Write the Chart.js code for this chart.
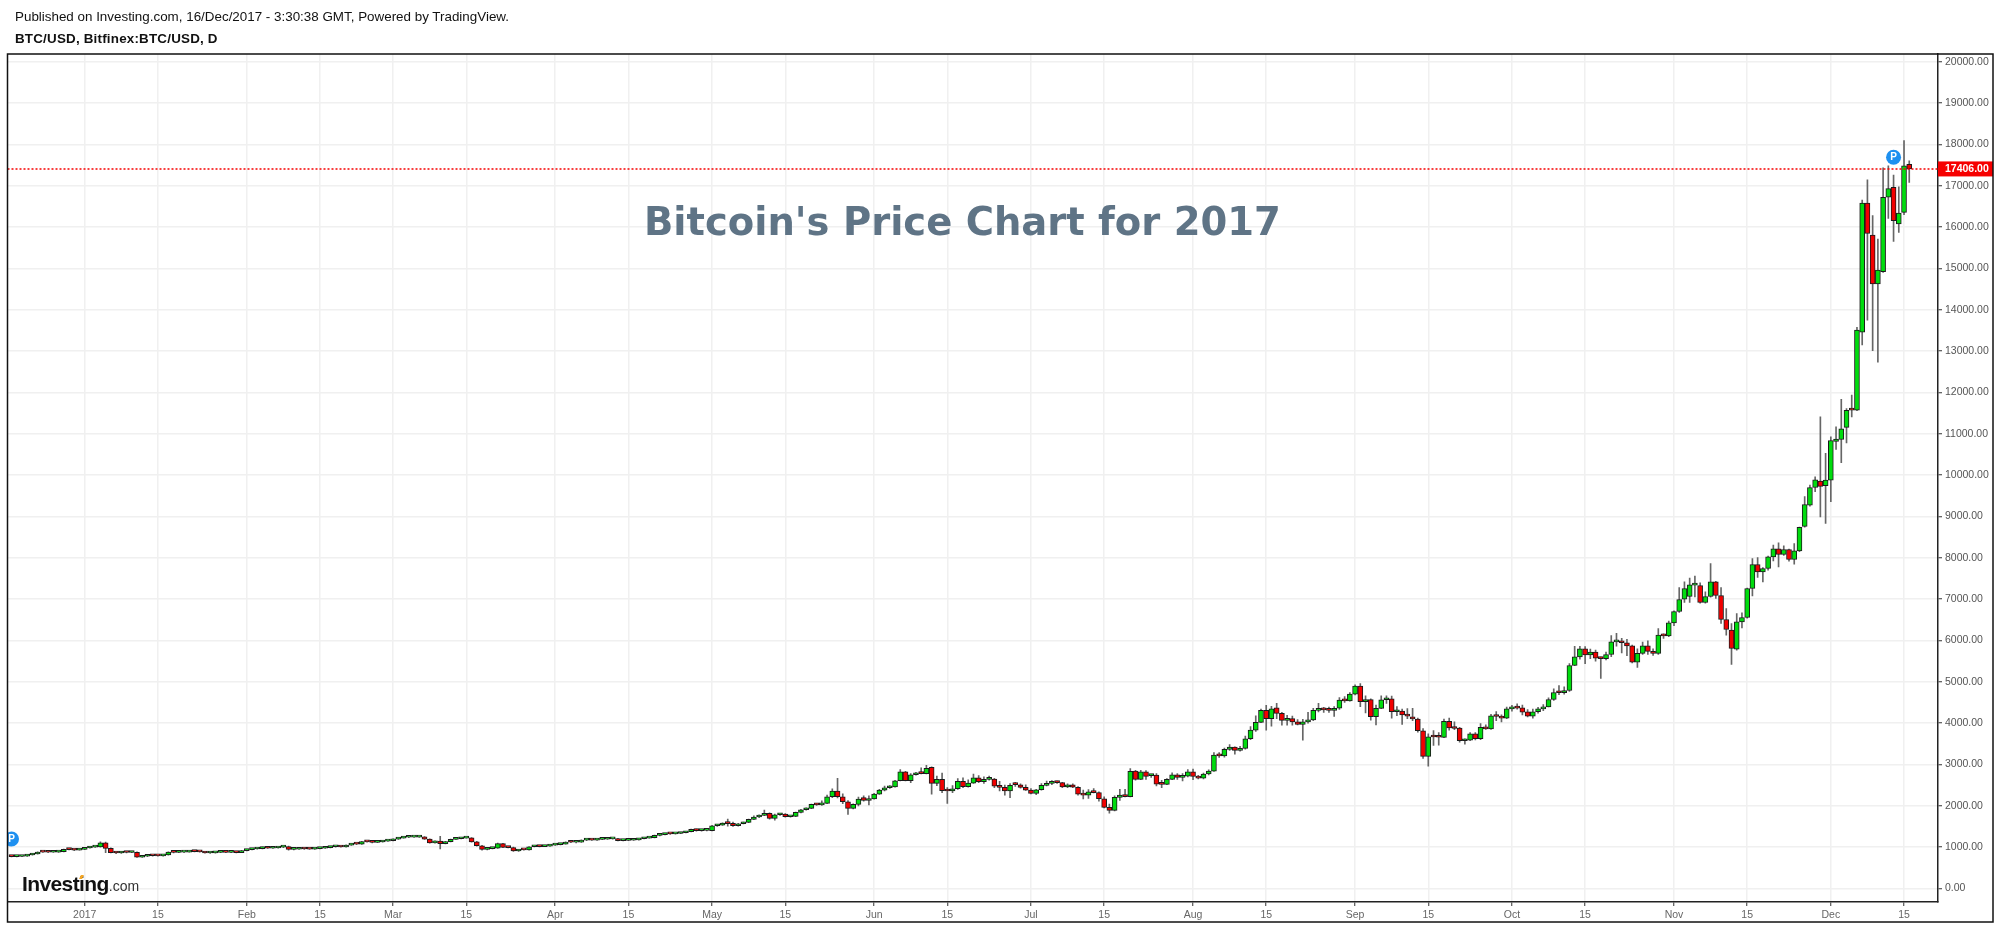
<!DOCTYPE html>
<html>
<head>
<meta charset="utf-8">
<title>BTC/USD</title>
<script src="https://cdn.jsdelivr.net/npm/chart.js@4"></script>
<style>
  body { margin: 0; background: #fff; width: 2000px; height: 925px; overflow: hidden; position: relative; }
  canvas { position: absolute; left: 0; top: 0; }
  .txt { position: absolute; white-space: nowrap; font-family: "Liberation Sans", sans-serif; color: #111; }
  #pub { left: 15px; top: 9px; font-size: 13.4px; }
  #sym { left: 15px; top: 31px; font-size: 13.4px; font-weight: bold; letter-spacing: 0.2px; }
  #bigTitle { left: 644px; top: 195px; font-family: "DejaVu Sans", sans-serif; font-weight: 700; font-size: 38.5px; line-height: 54px; color: #5f7486; }
  #logo { left: 22px; top: 872px; font-size: 21px; line-height: 24px; font-weight: bold; letter-spacing: -0.6px; }
  #logo span { font-weight: normal; font-size: 14px; color: #333; letter-spacing: 0; }
  #logo i { position: absolute; left: 58px; top: 3px; width: 3px; height: 4px; background: #f5a623; transform: skewX(-25deg); }
</style>
</head>
<body>
<canvas id="chart" width="2000" height="925"></canvas>
<div class="txt" id="pub">Published on Investing.com, 16/Dec/2017 - 3:30:38 GMT, Powered by TradingView.</div>
<div class="txt" id="sym">BTC/USD, Bitfinex:BTC/USD, D</div>
<div class="txt" id="bigTitle">Bitcoin's Price Chart for 2017</div>
<div class="txt" id="logo">Investing<span>.com</span><i></i></div>
<script>
// Dias contados desde el 1 de enero de 2017, la primera vela es 18/Dic/2016
const FIRST_DAY = -14;
const LAST_PRICE = 17406;

// Eje X
const X_MIN = -14.77;
const X_MAX = 354.5;
const tickDays = [0, 14, 31, 45, 59, 73, 90, 104, 120, 134, 151, 165, 181, 195, 212, 226, 243, 257, 273, 287, 304, 318, 334, 348];
const tickLabels = ['2017', '15', 'Feb', '15', 'Mar', '15', 'Apr', '15', 'May', '15', 'Jun', '15', 'Jul', '15', 'Aug', '15', 'Sep', '15', 'Oct', '15', 'Nov', '15', 'Dec', '15'];

// Eje Y
const Y_MIN = -326;
const Y_MAX = 20186;
const priceTicks = [0, 1000, 2000, 3000, 4000, 5000, 6000, 7000, 8000, 9000, 10000, 11000, 12000, 13000, 14000, 15000, 16000, 17000, 18000, 19000, 20000];

// Marcas "P"
const badgeDays = [-14, 346];
const badgeValues = [1197, 17690];

// Velas, una fila por mes
const opens = [
  772,770,774,782,810,834,883,880,878,880,893,950,940,930,
  945,980,1003,1008,1108,972,866,860,880,872,875,757,780,795,792,790,810,880,875,880,882,900,892,885,860,862,875,878,874,876,870,
  917,940,955,965,1000,975,980,1000,1015,945,950,960,955,952,965,975,990,1010,1012,1005,1050,1075,1072,1135,1130,1115,1125,1145,
  1155,1195,1220,1240,1242,1245,1248,1195,1105,1150,1085,1135,1190,1205,1220,1228,1130,1035,945,965,975,1085,996,990,907,942,935,1011,1020,1015,1025,
  1050,1060,1075,1125,1120,1122,1170,1175,1170,1190,1192,1200,1205,1160,1165,1168,1175,1205,1220,1228,1285,1305,1325,1322,1330,1350,1375,1430,1400,1405,
  1398,1519,1530,1590,1576,1519,1567,1600,1673,1729,1770,1818,1697,1785,1800,1736,1745,1842,1906,1940,2036,2025,2060,2220,2358,2220,2100,1939,2036,2200,2130,
  2170,2285,2382,2438,2460,2607,2825,2607,2752,2786,2780,2931,2544,2641,2365,2360,2413,2592,2462,2551,2680,2583,2640,2650,2478,2447,2358,2530,2510,2447,
  2382,2302,2390,2495,2544,2575,2560,2455,2510,2450,2285,2260,2360,2320,2172,1963,1891,2205,2261,2222,2840,2641,2825,2730,2745,2535,2520,2641,2752,2689,2715,
  2825,2710,2670,2770,2840,3228,3210,3366,3420,3340,3390,3622,3833,4019,4309,4106,4368,4237,4067,4110,4030,3970,4030,4080,4309,4335,4325,4310,4360,4565,4540,
  4703,4897,4518,4570,4155,4357,4566,4590,4276,4290,4200,4150,4100,3816,3197,3685,3685,3655,4043,3882,3880,3575,3590,3744,3622,3898,3860,4188,4162,4120,
  4347,4385,4371,4275,4170,4275,4347,4395,4573,4742,4735,4790,5395,5605,5798,5653,5717,5572,5560,5660,5968,5975,5945,5870,5475,5686,5870,5735,5686,6129,6112,
  6427,6700,6999,7064,7340,7330,6919,7064,7420,7088,6508,6250,5790,6451,6556,7257,7838,7660,7741,8023,8217,8080,8200,7958,8168,8760,9275,9700,9855,9742,
  9880,10814,10862,11153,11580,11570,13460,16580,15805,14625,14920,16720,16960,16075,16355,17520
];
const highs = [
  780,778,785,815,840,890,888,885,890,900,955,962,945,960,
  985,1010,1020,1130,1125,985,885,890,885,885,890,790,805,805,800,815,890,890,892,888,905,912,900,890,872,880,885,884,882,880,922,
  945,960,972,1005,1005,985,1005,1020,1025,958,966,966,962,970,980,995,1015,1018,1018,1055,1080,1085,1140,1150,1140,1130,1150,1160,
  1200,1225,1245,1250,1250,1255,1255,1200,1155,1260,1140,1195,1210,1225,1235,1235,1140,1045,975,985,1100,1095,1005,1000,935,950,1015,1028,1028,1032,1055,
  1068,1080,1130,1135,1128,1175,1185,1182,1195,1198,1205,1210,1212,1172,1178,1180,1208,1225,1235,1290,1310,1330,1335,1335,1355,1380,1435,1440,1412,1415,
  1530,1550,1590,1680,1610,1575,1610,1680,1760,1785,1898,1830,1800,1810,1815,1755,1850,1915,1950,2045,2060,2120,2260,2410,2665,2290,2130,2050,2210,2245,2240,
  2300,2400,2480,2490,2620,2880,2835,2780,2810,2920,2980,2945,2720,2790,2440,2490,2660,2680,2630,2770,2730,2700,2720,2665,2590,2500,2540,2570,2530,2510,
  2420,2400,2540,2600,2610,2600,2570,2530,2530,2465,2380,2395,2420,2340,2215,2040,2240,2400,2400,2900,2860,2860,2850,2760,2780,2620,2660,2800,2780,2780,2880,
  2890,2740,2790,2870,3290,3290,3400,3480,3430,3440,3690,3915,4180,4340,4430,4410,4480,4260,4190,4170,4085,4090,4260,4360,4480,4380,4390,4400,4620,4640,4740,
  4930,4960,4660,4590,4440,4660,4660,4655,4400,4340,4350,4360,4125,3870,3740,3820,3770,4100,4120,4030,3900,3620,3775,3770,3990,3960,4215,4280,4200,4390,
  4430,4470,4440,4330,4340,4380,4450,4610,4830,4911,4880,5440,5860,5860,5850,5790,5770,5600,5720,6120,6170,6050,6025,5890,5800,5960,5990,5800,6290,6160,6470,
  6720,7280,7418,7507,7555,7394,7177,7860,7430,7280,6774,6411,6653,6670,7270,7983,8008,7765,8040,8305,8360,8290,8210,8345,8740,9480,9758,9960,11410,10524,
  10927,11170,11830,11610,11934,13575,16650,17140,16275,15710,17430,17480,17260,16975,18090,17600
];
const lows = [
  765,765,770,778,805,830,872,870,872,876,888,935,915,925,
  940,975,995,1000,870,860,845,850,862,865,750,750,772,785,782,785,805,862,870,870,878,885,878,855,852,858,868,870,866,862,866,
  912,935,950,960,968,970,975,990,925,935,945,948,945,948,960,970,985,1000,1000,1000,1045,1060,1068,1120,1105,1108,1120,1140,
  1150,1190,1215,1230,1235,1238,1185,1095,1095,960,1080,1130,1185,1200,1215,1120,1025,930,935,955,970,990,980,900,895,925,930,1005,1005,1010,1020,
  1045,1055,1070,1110,1105,1118,1160,1162,1165,1180,1188,1195,1150,1150,1160,1162,1170,1200,1215,1225,1275,1295,1310,1315,1325,1345,1370,1385,1390,1395,
  1395,1505,1525,1510,1500,1510,1560,1590,1665,1715,1760,1680,1656,1770,1725,1725,1735,1830,1895,1930,2010,2010,2050,2200,2190,2050,1794,1925,2000,2115,2025,
  2160,2275,2360,2420,2450,2600,2600,2560,2740,2770,2770,2285,2490,2320,2060,2320,2400,2440,2450,2540,2560,2540,2620,2440,2360,2261,2196,2470,2430,2370,
  2290,2270,2380,2480,2510,2540,2440,2440,2440,2260,2170,2180,2310,2110,1950,1825,1880,2130,2215,2215,2620,2630,2640,2690,2480,2440,2510,2630,2640,2600,2700,
  2630,2650,2650,2750,2830,3170,3180,3340,3250,3320,3370,3600,3800,4010,3833,3930,4110,3950,3950,3950,3960,3590,4000,4060,4270,4260,4260,4160,4330,4500,4530,
  4680,4400,4250,4070,3960,4350,4480,4120,4180,3970,4110,4060,3780,3150,2960,3460,3470,3650,3830,3840,3540,3490,3575,3595,3600,3850,3850,4060,4030,4110,
  4290,4340,4200,4150,4120,4240,4300,4390,4550,4690,4700,4770,5390,5550,5440,5560,5500,5080,5530,5610,5860,5700,5630,5460,5347,5660,5660,5640,5660,6050,6090,
  6360,6680,6920,6920,7056,6900,6900,7050,7016,6411,6129,5420,5766,6306,6540,7080,7523,7418,7700,7926,7780,8060,7918,7845,8150,8740,9250,9597,8990,8830,
  9355,10620,10300,10780,11410,11560,13150,13750,13010,12730,14900,16210,15650,15870,16300,17080
];
const closes = [
  770,774,782,810,834,883,880,878,880,893,948,940,930,945,
  980,1003,1008,1108,972,866,860,880,872,875,757,780,795,792,790,810,880,875,880,882,900,892,885,860,862,875,878,874,876,870,917,
  940,955,965,1000,975,980,1000,1015,945,950,960,955,952,965,975,990,1010,1012,1005,1050,1075,1072,1135,1130,1115,1125,1145,1155,
  1195,1220,1240,1242,1245,1248,1195,1105,1150,1085,1135,1190,1205,1220,1228,1130,1035,945,965,975,1085,996,990,907,925,935,1011,1020,1015,1025,1050,
  1060,1075,1125,1120,1122,1170,1175,1170,1190,1192,1200,1205,1160,1165,1168,1175,1205,1220,1228,1285,1305,1325,1322,1330,1350,1375,1430,1400,1405,1408,
  1519,1530,1584,1570,1519,1567,1600,1673,1729,1770,1818,1697,1785,1795,1736,1745,1842,1906,1940,2036,2025,2060,2220,2358,2220,2100,1939,2036,2164,2130,2170,
  2285,2382,2438,2460,2607,2825,2607,2752,2786,2780,2907,2544,2641,2365,2360,2413,2592,2462,2551,2680,2583,2640,2650,2478,2447,2358,2495,2515,2447,2382,
  2302,2390,2495,2544,2570,2560,2455,2510,2450,2285,2260,2341,2320,2172,1963,1891,2205,2261,2222,2834,2641,2825,2713,2745,2527,2520,2641,2752,2689,2715,2825,
  2710,2670,2770,2840,3228,3210,3366,3420,3340,3390,3622,3833,4019,4309,4106,4348,4237,4067,4110,4030,3970,4030,4080,4309,4330,4320,4310,4360,4558,4540,4703,
  4897,4518,4570,4155,4357,4566,4590,4276,4290,4200,4170,4100,3816,3197,3672,3665,3660,4043,3882,3870,3575,3590,3744,3622,3898,3860,4178,4162,4120,4347,
  4380,4365,4267,4170,4275,4347,4395,4573,4742,4735,4790,5395,5605,5798,5653,5717,5572,5560,5660,5968,5975,5945,5870,5475,5686,5870,5735,5686,6129,6112,6427,
  6700,6991,7257,7346,7355,6919,7064,7418,7088,6508,6266,5806,6451,6556,7257,7838,7660,7741,8023,8217,8080,8200,7958,8168,8735,9290,9700,9887,9726,9880,
  10838,10870,11120,11564,11570,13510,16580,15845,14625,14960,16720,16930,16155,16340,17480,17406
];

const UP_COLOR = '#00dc0e';
const DOWN_COLOR = '#f20000';

// Marco, etiqueta de precio y letra de las marcas P
const overlayPlugin = {
  id: 'overlay',
  afterDatasetsDraw(chart) {
    const ctx = chart.ctx;
    const badges = chart.getDatasetMeta(3).data;
    ctx.save();
    ctx.beginPath();
    ctx.rect(chart.chartArea.left, chart.chartArea.top, chart.chartArea.width, chart.chartArea.height);
    ctx.clip();
    ctx.fillStyle = '#fff';
    ctx.font = 'bold 10px "Liberation Sans"';
    ctx.textAlign = 'center';
    ctx.textBaseline = 'middle';
    badges.forEach(p => ctx.fillText('P', p.x, p.y + 0.5));
    ctx.restore();
  },
  afterDraw(chart) {
    const ctx = chart.ctx;
    const yScale = chart.scales.y;
    const xScale = chart.scales.x;
    const py = yScale.getPixelForValue(LAST_PRICE);
    ctx.save();
    ctx.fillStyle = '#f60000';
    ctx.fillRect(yScale.left, py - 7.5, yScale.right - yScale.left, 15);
    ctx.fillStyle = '#fff';
    ctx.font = 'bold 10.5px "Liberation Sans"';
    ctx.textBaseline = 'middle';
    ctx.fillText(LAST_PRICE.toFixed(2), yScale.left + 7, py + 0.5);
    ctx.strokeStyle = '#111';
    ctx.lineWidth = 1.5;
    ctx.strokeRect(chart.chartArea.left, chart.chartArea.top, yScale.right - chart.chartArea.left, xScale.bottom - chart.chartArea.top);
    ctx.restore();
  }
};

const xs = closes.map((c, i) => FIRST_DAY + i);

new Chart(document.getElementById('chart'), {
  type: 'bar',
  data: {
    datasets: [
      {
        // Cuerpo de la vela
        data: xs.map((x, i) => ({ x: x, y: [opens[i], closes[i]] })),
        backgroundColor: closes.map((c, i) => c >= opens[i] ? UP_COLOR : DOWN_COLOR),
        borderColor: '#1a1a1a',
        borderWidth: 1,
        borderSkipped: false,
        barThickness: 5,
        minBarLength: 2,
        grouped: false,
        order: 2
      },
      {
        // Mecha
        data: xs.map((x, i) => ({ x: x, y: [lows[i], highs[i]] })),
        backgroundColor: '#666',
        borderWidth: 0,
        barThickness: 1,
        grouped: false,
        order: 3
      },
      {
        type: 'line',
        data: [{ x: X_MIN, y: LAST_PRICE }, { x: X_MAX, y: LAST_PRICE }],
        borderColor: '#f60000',
        borderWidth: 1.5,
        borderDash: [2, 2],
        pointRadius: 0,
        order: 1
      },
      {
        type: 'line',
        data: badgeDays.map((d, i) => ({ x: d, y: badgeValues[i] })),
        showLine: false,
        pointRadius: 7.5,
        pointBorderWidth: 0,
        pointBackgroundColor: '#1e90f0',
        order: 0
      }
    ]
  },
  options: {
    responsive: false,
    animation: false,
    events: [],
    layout: { padding: { left: 6, top: 54, right: 7, bottom: 3 } },
    plugins: { legend: { display: false }, tooltip: { enabled: false } },
    scales: {
      x: {
        type: 'linear',
        min: X_MIN,
        max: X_MAX,
        offset: false,
        grid: { offset: false, color: '#f0f0f0', lineWidth: 1.5, tickColor: '#333', tickLength: 4, tickWidth: 1 },
        border: { color: '#222', width: 1.5 },
        afterBuildTicks: scale => { scale.ticks = tickDays.map(d => ({ value: d })); },
        afterFit: scale => { scale.height = 20; },
        ticks: {
          autoSkip: false,
          maxRotation: 0,
          padding: 3,
          color: '#666',
          font: { family: 'Liberation Sans', size: 10.5 },
          callback: (value, index) => tickLabels[index]
        }
      },
      y: {
        position: 'right',
        min: Y_MIN,
        max: Y_MAX,
        grid: { color: '#f0f0f0', lineWidth: 1.5, tickColor: '#333', tickLength: 4, tickWidth: 1 },
        border: { color: '#222', width: 1.5 },
        afterBuildTicks: scale => { scale.ticks = priceTicks.map(v => ({ value: v })); },
        afterFit: scale => { scale.width = 55; },
        ticks: {
          autoSkip: false,
          padding: 3,
          color: '#555',
          font: { family: 'Liberation Sans', size: 10.5 },
          callback: value => value.toFixed(2)
        }
      }
    }
  },
  plugins: [overlayPlugin]
});
</script>
</body>
</html>
